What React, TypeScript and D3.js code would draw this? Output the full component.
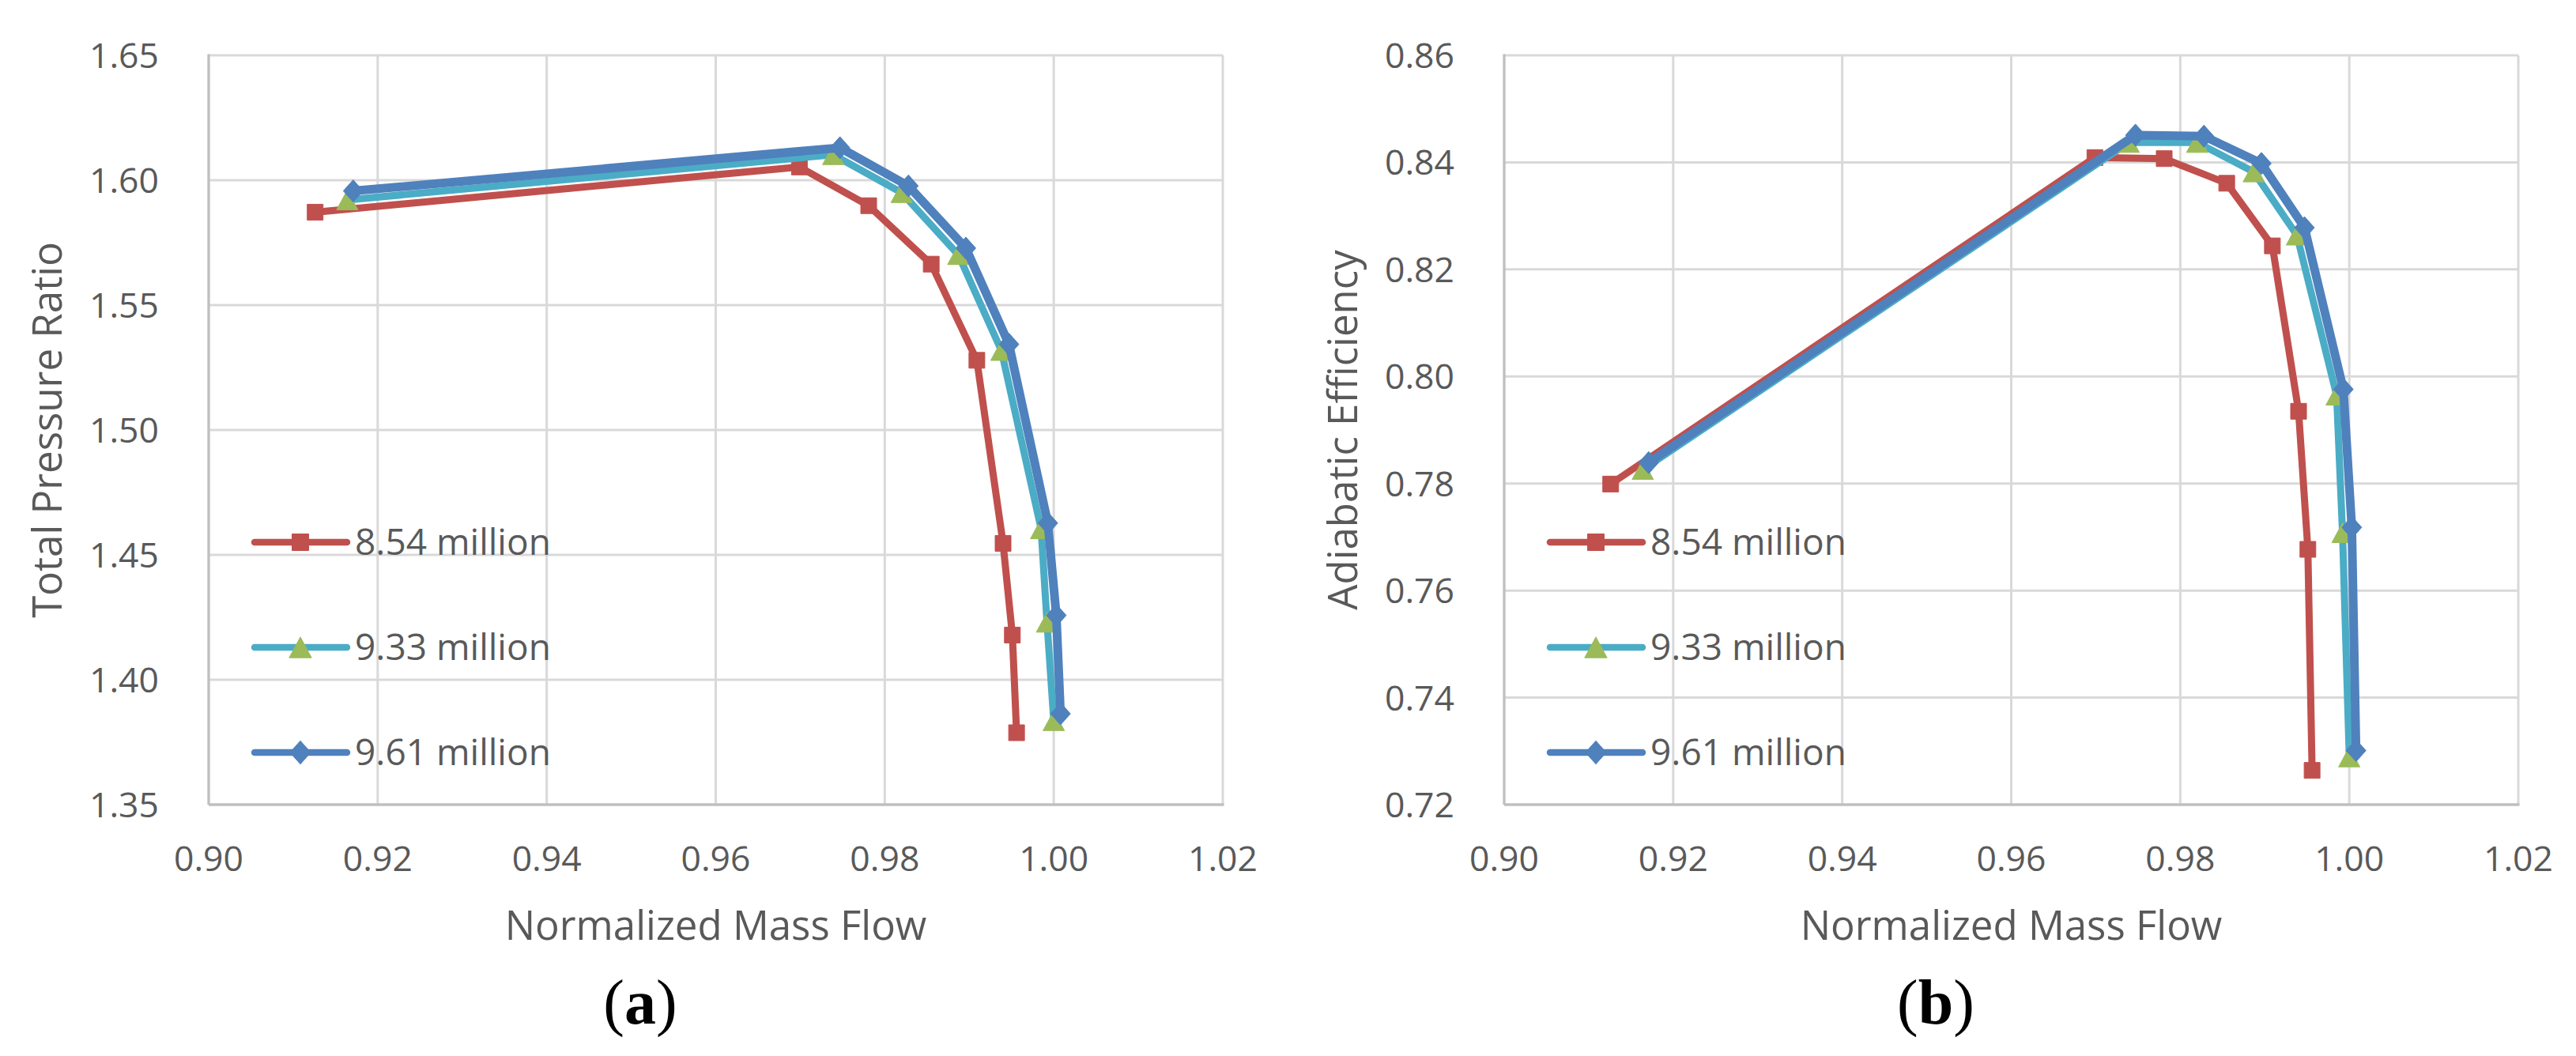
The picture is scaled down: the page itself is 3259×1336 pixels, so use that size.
import React, { useEffect } from 'react';
import * as d3 from 'd3';

// ---------- data ----------
const massFlow854 = [0.9126, 0.9699, 0.9781, 0.9855, 0.9909, 0.9940, 0.9951, 0.9956];
const massFlow933 = [0.9164, 0.9739, 0.9820, 0.9887, 0.9938, 0.9985, 0.9992, 1.0000];
const massFlow961 = [0.9171, 0.9747, 0.9828, 0.9896, 0.9947, 0.9993, 1.0003, 1.0008];

const pressure854 = [1.5872, 1.6053, 1.5898, 1.5664, 1.5279, 1.4546, 1.4179, 1.3788];
const pressure933 = [1.5921, 1.6102, 1.5950, 1.5702, 1.5318, 1.4604, 1.4230, 1.3836];
const pressure961 = [1.5957, 1.6130, 1.5977, 1.5728, 1.5343, 1.4627, 1.4258, 1.3864];

const efficiency854 = [0.7799, 0.8409, 0.8407, 0.8361, 0.8244, 0.7935, 0.7677, 0.7264];
const efficiency933 = [0.7826, 0.8437, 0.8437, 0.8382, 0.8264, 0.7965, 0.7708, 0.7289];
const efficiency961 = [0.7839, 0.8451, 0.8449, 0.8398, 0.8278, 0.7976, 0.7718, 0.7301];

const seriesNames = ['8.54 million', '9.33 million', '9.61 million'];
const xTicks = [0.90, 0.92, 0.94, 0.96, 0.98, 1.00, 1.02];
const pressureTicks = [1.35, 1.40, 1.45, 1.50, 1.55, 1.60, 1.65];
const efficiencyTicks = [0.72, 0.74, 0.76, 0.78, 0.80, 0.82, 0.84, 0.86];

// ---------- styles ----------
const W = 3259;
const H = 1336;
const PLOT_W = 1283;
const PLOT_TOP = 70;
const PLOT_BOTTOM = 1018;
const FONT = '"Open Sans", "Noto Sans", sans-serif';
const TEXT = '#595959';

const seriesStyles = [
  { line: '#C0504D', marker: '#C0504D', shape: 'square', width: 9 },
  { line: '#4BACC6', marker: '#9BBB59', shape: 'triangle', width: 9 },
  { line: '#4F81BD', marker: '#4F81BD', shape: 'diamond', width: 11 },
];

function markerPath(shape: string, cx: number, cy: number, scale = 1) {
  if (shape === 'square') {
    const s = 20 * scale;
    return `M${cx - s / 2},${cy - s / 2}h${s}v${s}h${-s}Z`;
  }
  if (shape === 'triangle') {
    const w = 27 * scale, h = 25 * scale;
    return `M${cx},${cy - h / 2}L${cx + w / 2},${cy + h / 2}L${cx - w / 2},${cy + h / 2}Z`;
  }
  const w = 25 * scale, h = 28 * scale;
  return `M${cx},${cy - h / 2}L${cx + w / 2},${cy}L${cx},${cy + h / 2}L${cx - w / 2},${cy}Z`;
}

type ChartProps = {
  left: number;
  yTicks: number[];
  values: number[][];
  yLabel: string;
  tag: string;
};

const massFlows = [massFlow854, massFlow933, massFlow961];

function Chart({ left, yTicks, values, yLabel, tag }: ChartProps) {
  const x = d3.scaleLinear().domain([xTicks[0], xTicks[xTicks.length - 1]]).range([left, left + PLOT_W]);
  const y = d3.scaleLinear().domain([yTicks[0], yTicks[yTicks.length - 1]]).range([PLOT_BOTTOM, PLOT_TOP]);
  const fmt = d3.format('.2f');
  const line = d3.line<[number, number]>().x((d) => x(d[0])).y((d) => y(d[1]));
  const cx = left + PLOT_W / 2;
  const cy = (PLOT_TOP + PLOT_BOTTOM) / 2;
  const legendRows = [686, 819, 952];

  return (
    <g>
      {/* gridlines */}
      {yTicks.map((t, i) =>
        i === 0 ? null : (
          <line key={'gy' + t} x1={left} x2={left + PLOT_W} y1={y(t)} y2={y(t)} stroke="#D9D9D9" strokeWidth={3} />
        )
      )}
      {xTicks.map((t, i) =>
        i === 0 ? null : (
          <line key={'gx' + t} x1={x(t)} x2={x(t)} y1={PLOT_TOP} y2={PLOT_BOTTOM} stroke="#D9D9D9" strokeWidth={3} />
        )
      )}
      {/* axes */}
      <line x1={left} x2={left} y1={PLOT_TOP - 1.5} y2={PLOT_BOTTOM} stroke="#BFBFBF" strokeWidth={3.3} />
      <line x1={left} x2={left + PLOT_W + 1.5} y1={PLOT_BOTTOM} y2={PLOT_BOTTOM} stroke="#BFBFBF" strokeWidth={3.3} />

      {/* tick labels */}
      {yTicks.map((t) => (
        <text key={'ly' + t} x={left - 63} y={y(t) + 16} textAnchor="end" fontFamily={FONT} fontSize={44.5} fill={TEXT}>
          {fmt(t)}
        </text>
      ))}
      {xTicks.map((t) => (
        <text key={'lx' + t} x={x(t)} y={1102} textAnchor="middle" fontFamily={FONT} fontSize={44.5} fill={TEXT}>
          {fmt(t)}
        </text>
      ))}

      {/* axis titles */}
      <text x={cx} y={1189} textAnchor="middle" fontFamily={FONT} fontSize={51} fill={TEXT}>
        Normalized Mass Flow
      </text>
      <text
        transform={`translate(${left - 186},${cy}) rotate(-90)`}
        textAnchor="middle"
        fontFamily={FONT}
        fontSize={51}
        fill={TEXT}
      >
        {yLabel}
      </text>

      {/* series */}
      {values.map((vals, si) => {
        const st = seriesStyles[si];
        const pts: [number, number][] = vals.map((v, i) => [massFlows[si][i], v]);
        return (
          <g key={'s' + si}>
            <path d={line(pts) || ''} fill="none" stroke={st.line} strokeWidth={st.width} strokeLinejoin="round" strokeLinecap="round" />
            {pts.map((p, i) => (
              <path key={i} d={markerPath(st.shape, x(p[0]), y(p[1]))} fill={st.marker} stroke={st.marker} strokeWidth={1} strokeLinejoin="round" />
            ))}
          </g>
        );
      })}

      {/* legend */}
      {seriesNames.map((name, si) => {
        const st = seriesStyles[si];
        const ly = legendRows[si];
        return (
          <g key={'lg' + si}>
            <line x1={left + 58} x2={left + 175} y1={ly} y2={ly} stroke={st.line} strokeWidth={8.5} strokeLinecap="round" />
            <path d={markerPath(st.shape, left + 116, ly, 1.05)} fill={st.marker} stroke={st.marker} strokeWidth={1} strokeLinejoin="round" />
            <text x={left + 185} y={ly + 16} fontFamily={FONT} fontSize={46} fill={TEXT}>
              {name}
            </text>
          </g>
        );
      })}

      {/* panel tag */}
      <text x={left + 546} y={1295} textAnchor="middle" fontFamily='"Liberation Serif", "Times New Roman", serif' fontSize={80} fill="#000">
        <tspan>(</tspan>
        <tspan fontWeight="bold">{tag}</tspan>
        <tspan>)</tspan>
      </text>
    </g>
  );
}

export default function App() {
  useEffect(() => {
    document.body.style.margin = '0';
  }, []);
  return (
    <svg width={W} height={H} viewBox={`0 0 ${W} ${H}`} style={{ display: 'block', background: '#fff' }}>
      <rect x={0} y={0} width={W} height={H} fill="#fff" />
      <Chart
        left={264}
        yTicks={pressureTicks}
        values={[pressure854, pressure933, pressure961]}
        yLabel="Total Pressure Ratio"
        tag="a"
      />
      <Chart
        left={1903}
        yTicks={efficiencyTicks}
        values={[efficiency854, efficiency933, efficiency961]}
        yLabel="Adiabatic Efficiency"
        tag="b"
      />
    </svg>
  );
}
